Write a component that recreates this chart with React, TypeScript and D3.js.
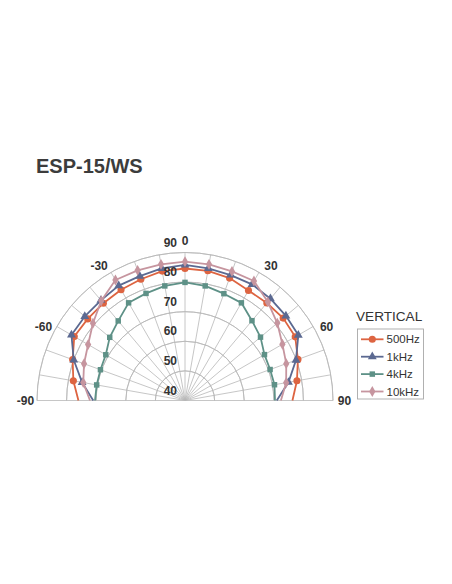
import * as React from "react"
import * as d3 from "d3"

// polar response, degrees from the front axis
const angles = [-90, -80, -70, -60, -50, -40, -30, -20, -10, 0, 10, 20, 30, 40, 50, 60, 70, 80, 90]

const hz500 = [76.0, 78.3, 80.4, 83.2, 82.9, 82.9, 83.2, 83.6, 84.4, 84.6, 84.5, 84.0, 82.9, 83.0, 83.3, 83.0, 80.6, 78.4, 76.3]
const khz1 = [71.0, 75.3, 80.0, 84.3, 84.2, 84.2, 84.8, 84.7, 85.3, 85.8, 85.3, 85.1, 85.3, 84.9, 84.5, 84.2, 79.9, 75.5, 71.0]
const khz4 = [70.4, 70.3, 70.4, 70.9, 73.2, 75.1, 78.1, 78.5, 79.3, 79.9, 79.3, 78.4, 78.1, 75.2, 73.3, 71.0, 70.6, 70.7, 70.4]
const khz10 = [72.1, 74.9, 76.3, 77.8, 80.6, 84.0, 87.0, 86.8, 86.7, 86.9, 86.7, 86.4, 86.6, 83.5, 80.7, 78.0, 76.4, 74.7, 72.4]

const seriesNames = ["500Hz", "1kHz", "4kHz", "10kHz"]
const levelTicks = [40, 50, 60, 70, 80, 90]
const angleTicks = [-90, -60, -30, 0, 30, 60, 90]
const spokes = d3.range(-90, 91, 10)

const title = "ESP-15/WS"
const legendTitle = "VERTICAL"

const series = [
  { name: seriesNames[0], values: hz500, color: "#dd6441", symbol: d3.symbolCircle, size: 40 },
  { name: seriesNames[1], values: khz1, color: "#5b6991", symbol: d3.symbolTriangle, size: 34 },
  { name: seriesNames[2], values: khz4, color: "#5e9187", symbol: d3.symbolSquare, size: 30 },
  { name: seriesNames[3], values: khz10, color: "#c6959f", symbol: d3.symbolDiamond, size: 34 },
]

const W = 452
const H = 584
const cx = 185
const cy = 400.5
const R = 148
const font = "'Liberation Sans', Arial, sans-serif"

export default function App() {
  const r = d3.scaleLinear().domain([40, 90]).range([0, R])
  const rad = (deg: number) => (deg * Math.PI) / 180

  const ring = d3.arc<number>()
    .innerRadius((d) => r(d))
    .outerRadius((d) => r(d))
    .startAngle(-Math.PI / 2)
    .endAngle(Math.PI / 2)

  const line = d3.lineRadial<number>()
    .angle((_, i) => rad(angles[i]))
    .radius((d) => r(d))

  const pt = (deg: number, v: number) => {
    const a = rad(deg)
    return [r(v) * Math.sin(a), -r(v) * Math.cos(a)]
  }

  // angle labels sit a little outside the rim, pushed outward like the original
  const labelPos = (deg: number) => {
    const a = rad(deg + Math.sign(deg) * 3 * Math.sin(rad(2 * Math.abs(deg))))
    const lr = R + 11.5
    return [lr * Math.sin(a), -lr * Math.cos(a)]
  }

  const legendX = 357.5
  const legendY = 329
  const rowY = (i: number) => legendY + 10.3 + i * 17.4

  return (
    <div style={{ position: "absolute", left: 0, top: 0 }}>
      <svg width={W} height={H} viewBox={`0 0 ${W} ${H}`} style={{ display: "block", fontFamily: font }}>
        <rect width={W} height={H} fill="#ffffff" />
        <text x={36} y={173.3} fontSize={20} fontWeight="bold" fill="#3c3c3c">{title}</text>

        <g transform={`translate(${cx},${cy})`}>
          {/* grid */}
          {levelTicks.filter((v) => v > 40).map((v) => (
            <path key={v} d={ring(v) || ""} fill="none" stroke="#b8b8b8" strokeWidth={0.8} />
          ))}
          {spokes.map((deg) => {
            const [x, y] = pt(deg, 90)
            return <line key={deg} x1={0} y1={0} x2={x} y2={y} stroke="#b8b8b8" strokeWidth={0.8} />
          })}

          {/* series */}
          {series.map((s) => (
            <g key={s.name}>
              <path d={line(s.values) || ""} fill="none" stroke={s.color} strokeWidth={1.8} strokeLinejoin="round" />
              {s.values.map((v, i) => {
                if (Math.abs(angles[i]) === 90) return null
                const [x, y] = pt(angles[i], v)
                return (
                  <path
                    key={i}
                    transform={`translate(${x},${y})`}
                    d={d3.symbol().type(s.symbol).size(s.size)() || ""}
                    fill={s.color}
                  />
                )
              })}
            </g>
          ))}

          {/* level labels */}
          {levelTicks.map((v) => (
            <text key={v} x={-8} y={-r(v) - 6} textAnchor="end" fontSize={12} fontWeight="bold" fill="#333">
              {v}
            </text>
          ))}

          {/* angle labels */}
          {angleTicks.map((deg) => {
            const [x, y] = labelPos(deg)
            return (
              <text key={deg} x={x} y={y} dy="0.36em" textAnchor="middle" fontSize={12} fontWeight="bold" fill="#333">
                {deg}
              </text>
            )
          })}
        </g>

        {/* legend */}
        <text x={356} y={321} fontSize={13.6} fill="#333">{legendTitle}</text>
        <rect x={legendX} y={legendY} width={66} height={70} fill="none" stroke="#a8a8a8" strokeWidth={0.9} />
        {series.map((s, i) => (
          <g key={s.name}>
            <line x1={361} x2={383.5} y1={rowY(i)} y2={rowY(i)} stroke={s.color} strokeWidth={1.8} />
            <path
              transform={`translate(372.3,${rowY(i)})`}
              d={d3.symbol().type(s.symbol).size(s.size)() || ""}
              fill={s.color}
            />
            <text x={386.5} y={rowY(i) + 4} fontSize={11.5} fill="#333">{s.name}</text>
          </g>
        ))}
      </svg>
    </div>
  )
}
